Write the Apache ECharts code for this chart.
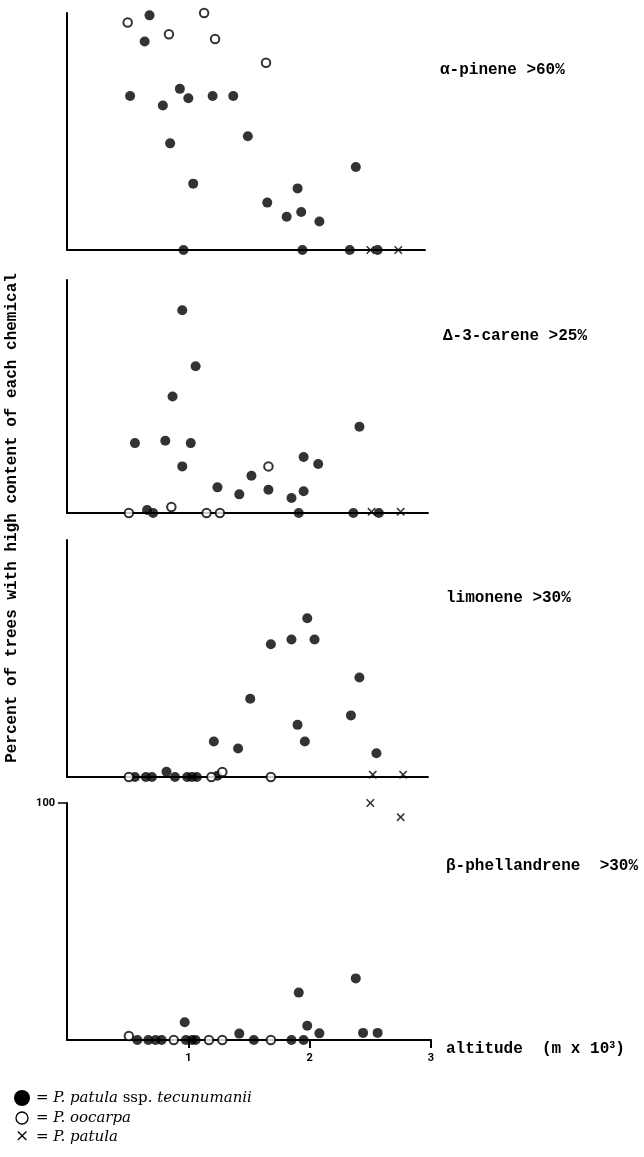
<!DOCTYPE html>
<html>
<head>
<meta charset="utf-8">
<title>Monoterpenes vs altitude</title>
<script src="https://cdn.jsdelivr.net/npm/echarts@6/dist/echarts.min.js"></script>
<style>
html, body { margin: 0; padding: 0; background: #fff; }
#chart { width: 644px; height: 1157px; }
</style>
</head>
<body>
<div id="chart"></div>
<script>
// [altitude (m x 10^3), percent of trees]
// alpha-pinene >60%
const aPinTec = [[0.52, 65], [0.64, 88], [0.68, 99], [0.79, 61], [0.85, 45], [0.93, 68], [0.96, 0], [1.00, 64], [1.04, 28], [1.20, 65], [1.37, 65], [1.49, 48], [1.65, 20], [1.81, 14], [1.90, 26], [1.93, 16], [1.94, 0], [2.08, 12], [2.33, 0], [2.38, 35], [2.56, 0]]
const aPinOoc = [[0.50, 96], [0.84, 91], [1.13, 100], [1.22, 89], [1.64, 79]]
const aPinPat = [[2.50, 0], [2.73, 0]]

// delta-3-carene >25%
const carTec = [[0.56, 30], [0.66, 1.3], [0.71, 0], [0.81, 31], [0.87, 50], [0.95, 87], [0.95, 20], [1.02, 30], [1.06, 63], [1.24, 11], [1.42, 8], [1.52, 16], [1.66, 10], [1.85, 6.4], [1.91, 0], [1.95, 24], [1.95, 9.3], [2.07, 21], [2.36, 0], [2.41, 37], [2.57, 0]]
const carOoc = [[0.51, 0], [0.86, 2.6], [1.15, 0], [1.26, 0], [1.66, 20]]
const carPat = [[2.51, 0.5], [2.75, 0.5]]

// limonene >30%
const limTec = [[0.56, 0], [0.65, 0], [0.70, 0], [0.82, 2.2], [0.89, 0], [0.99, 0], [1.03, 0], [1.07, 0], [1.21, 15], [1.24, 0.5], [1.41, 12], [1.51, 33], [1.68, 56], [1.85, 58], [1.90, 22], [1.96, 15], [1.98, 67], [2.04, 58], [2.34, 26], [2.41, 42], [2.55, 10]]
const limOoc = [[0.51, 0], [1.19, 0], [1.28, 2.1], [1.68, 0]]
const limPat = [[2.52, 1], [2.77, 1]]

// beta-phellandrene >30%
const phelTec = [[0.58, 0], [0.67, 0], [0.73, 0], [0.78, 0], [0.97, 7.5], [0.98, 0], [1.03, 0], [1.06, 0], [1.42, 2.7], [1.54, 0], [1.85, 0], [1.91, 20], [1.95, 0], [1.98, 6], [2.08, 2.8], [2.38, 26], [2.44, 3], [2.56, 3]]
const phelOoc = [[0.51, 1.7], [0.88, 0], [1.17, 0], [1.28, 0], [1.68, 0]]
const phelPat = [[2.50, 100], [2.75, 94]]

const panelNames = ['α-pinene >60%', 'Δ-3-carene >25%', 'limonene >30%', 'β-phellandrene  >30%']
const xTicks = [1, 2, 3]
const yTicks = [100]

const panelData = [
  [aPinTec, aPinOoc, aPinPat],
  [carTec, carOoc, carPat],
  [limTec, limOoc, limPat],
  [phelTec, phelOoc, phelPat]
]

// 每个面板的位置（像素）
const layout = [
  { top: 13, height: 237, width: 358, xMax: 2.95, lx: 440, ly: 72 },
  { top: 280, height: 233, width: 361, xMax: 2.975, lx: 443, ly: 338 },
  { top: 540, height: 237, width: 361, xMax: 2.975, lx: 446, ly: 600 },
  { top: 803, height: 237, width: 364, xMax: 3, lx: 446, ly: 868 }
]

const INK = '#000'
const MONO = '"Liberation Mono", "DejaVu Sans Mono", monospace'
const SERIF = '"DejaVu Serif", "Liberation Serif", serif'
const CROSS = 'path://M0,1.3L1.3,0L5,3.7L8.7,0L10,1.3L6.3,5L10,8.7L8.7,10L5,6.3L1.3,10L0,8.7L3.7,5Z'

const grid = []
const xAxis = []
const yAxis = []
const series = []
const graphic = []

layout.forEach((p, i) => {
  const last = i === layout.length - 1
  grid.push({ left: 67, top: p.top, width: p.width, height: p.height })
  xAxis.push({
    type: 'value', gridIndex: i, min: 0, max: p.xMax, interval: 1,
    axisLine: { show: true, onZero: false, lineStyle: { color: INK, width: 2 } },
    axisTick: { show: last, customValues: xTicks, length: 8, lineStyle: { color: INK, width: 2 } },
    axisLabel: { show: last, customValues: xTicks, margin: 13, color: INK, fontSize: 11, fontWeight: 'bold', fontFamily: 'Roboto, sans-serif' },
    splitLine: { show: false }
  })
  yAxis.push({
    type: 'value', gridIndex: i, min: 0, max: 100, interval: 100,
    axisLine: { show: true, onZero: false, lineStyle: { color: INK, width: 2 } },
    axisTick: { show: last, customValues: yTicks, length: 9, lineStyle: { color: INK, width: 1.5 } },
    axisLabel: { show: last, customValues: yTicks, margin: 12, color: INK, fontSize: 11, fontWeight: 'bold', fontFamily: 'Roboto, sans-serif' },
    splitLine: { show: false }
  })
  const [tec, ooc, pat] = panelData[i]
  series.push(
    { type: 'scatter', xAxisIndex: i, yAxisIndex: i, data: tec, clip: false, silent: true,
      symbol: 'circle', symbolSize: 10, itemStyle: { color: INK } },
    { type: 'scatter', xAxisIndex: i, yAxisIndex: i, data: ooc, clip: false, silent: true,
      symbol: 'circle', symbolSize: 8.5, itemStyle: { color: '#fff', borderColor: INK, borderWidth: 2 } },
    { type: 'scatter', xAxisIndex: i, yAxisIndex: i, data: pat, clip: false, silent: true,
      symbol: CROSS, symbolSize: 8.5, itemStyle: { color: INK } }
  )
  graphic.push({
    type: 'text', left: p.lx, top: p.ly - 10,
    style: { text: panelNames[i], fill: INK, font: 'bold 16px ' + MONO }
  })
})

// 纵轴标题
graphic.push({
  type: 'text', x: 12, y: 518, rotation: Math.PI / 2,
  style: { text: 'Percent of trees with high content of each chemical', fill: INK,
    font: 'bold 16px ' + MONO, align: 'center', verticalAlign: 'middle' }
})

// 横轴标题
graphic.push({
  type: 'text', left: 446, top: 1040,
  style: {
    text: 'altitude  (m x 10{s|3})', fill: INK, font: 'bold 16px ' + MONO,
    rich: { s: { fontSize: 10, fontWeight: 'bold', fontFamily: MONO, verticalAlign: 'top', padding: [0, 0, 8, 0] } }
  }
})

// 图例
const legendRows = [
  { y: 1098, text: '= {i|P. patula} ssp. {i|tecunumanii}' },
  { y: 1118, text: '= {i|P. oocarpa}' },
  { y: 1137, text: '= {i|P. patula}' }
]
graphic.push(
  { type: 'circle', shape: { cx: 22, cy: 1098, r: 8 }, style: { fill: INK } },
  { type: 'circle', shape: { cx: 22, cy: 1118, r: 6 }, style: { fill: '#fff', stroke: INK, lineWidth: 1.3 } },
  { type: 'text', x: 22, y: 1137, style: { text: '×', fill: INK, font: '17px ' + SERIF, align: 'center', verticalAlign: 'middle' } }
)
legendRows.forEach(r => {
  graphic.push({
    type: 'text', x: 36, y: r.y,
    style: {
      text: r.text, fill: INK, font: '15px ' + SERIF, verticalAlign: 'middle',
      rich: { i: { fontStyle: 'italic', fontSize: 15, fontFamily: SERIF } }
    }
  })
})

const chart = echarts.init(document.getElementById('chart'), null, { renderer: 'canvas' })
chart.setOption({
  animation: false,
  backgroundColor: '#fff',
  grid, xAxis, yAxis, series, graphic
})
</script>
</body>
</html>
